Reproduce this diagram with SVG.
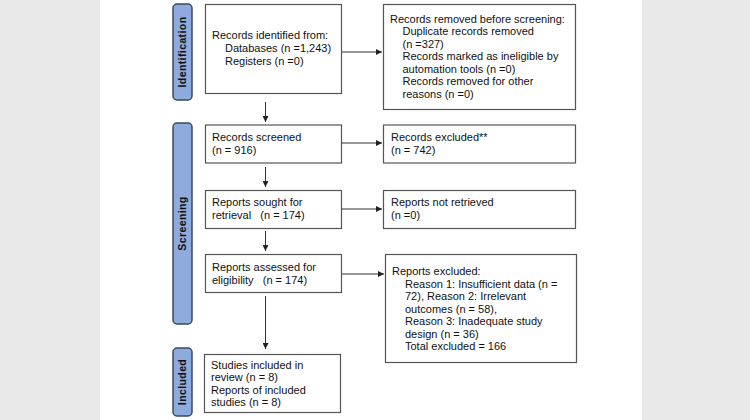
<svg xmlns="http://www.w3.org/2000/svg" width="750" height="420" viewBox="0 0 750 420">
  <defs>
    <style>
      .box { fill: #ffffff; stroke: #555555; stroke-width: 1.2; }
      .pill { fill: #8faadc; stroke: #3a4a60; stroke-width: 1.5; }
      .t { font-family: "Liberation Sans", Arial, sans-serif; font-size: 11px; fill: #111111; white-space: pre; }
      .lbl { font-family: "Liberation Sans", Arial, sans-serif; font-size: 10.5px; font-weight: bold; fill: #111111; letter-spacing: 0.4px; }
      .edge { stroke: #333333; stroke-width: 1; fill: none; marker-end: url(#arrow); }
    </style>
    <marker id="arrow" viewBox="0 0 6 6" refX="6" refY="3" markerWidth="6" markerHeight="6" markerUnits="userSpaceOnUse" orient="auto">
      <path d="M0,0 L6,3 L0,6 Z" fill="#222222"/>
    </marker>
  </defs>

  <!-- page backdrop -->
  <rect x="0" y="0" width="750" height="420" fill="#e9e9e9"/>
  <rect x="100" y="0" width="542" height="420" fill="#ffffff"/>

  <!-- phase labels -->
  <g id="phase-identification">
    <rect class="pill" x="173" y="4" width="19" height="96" rx="4"/>
    <text class="lbl" transform="translate(186,52) rotate(-90)" text-anchor="middle">Identification</text>
  </g>
  <g id="phase-screening">
    <rect class="pill" x="173" y="123" width="19" height="201" rx="4"/>
    <text class="lbl" transform="translate(186,223.5) rotate(-90)" text-anchor="middle">Screening</text>
  </g>
  <g id="phase-included">
    <rect class="pill" x="173" y="348" width="19" height="68" rx="4"/>
    <text class="lbl" transform="translate(186,382) rotate(-90)" text-anchor="middle">Included</text>
  </g>

  <!-- connectors -->
  <g id="connectors">
    <line class="edge" x1="341" y1="52" x2="382" y2="52"/>
    <line class="edge" x1="265.5" y1="102" x2="265.5" y2="122"/>
    <line class="edge" x1="341" y1="143" x2="382" y2="143"/>
    <line class="edge" x1="265.5" y1="167" x2="265.5" y2="187"/>
    <line class="edge" x1="341" y1="209" x2="382" y2="209"/>
    <line class="edge" x1="265.5" y1="231" x2="265.5" y2="251"/>
    <line class="edge" x1="341" y1="274" x2="384" y2="274"/>
    <line class="edge" x1="265.5" y1="296" x2="265.5" y2="349"/>
  </g>

  <!-- nodes -->
  <g id="records-identified">
    <rect class="box" x="205.5" y="4.5" width="136" height="89"/>
    <text class="t" x="212" y="39">Records identified from:</text>
    <text class="t" x="225" y="52">Databases (n =1,243)</text>
    <text class="t" x="225" y="65">Registers (n =0)</text>
  </g>

  <g id="records-removed">
    <rect class="box" x="383.5" y="4.5" width="192" height="105"/>
    <text class="t" x="390" y="22.5">Records removed before screening:</text>
    <text class="t" x="402.5" y="35">Duplicate records removed</text>
    <text class="t" x="402.5" y="47.5">(n =327)</text>
    <text class="t" x="402.5" y="60">Records marked as ineligible by</text>
    <text class="t" x="402.5" y="72.5">automation tools (n =0)</text>
    <text class="t" x="402.5" y="85">Records removed for other</text>
    <text class="t" x="402.5" y="97.5">reasons (n =0)</text>
  </g>

  <g id="records-screened">
    <rect class="box" x="205.5" y="125" width="136" height="38"/>
    <text class="t" x="212" y="141">Records screened</text>
    <text class="t" x="212" y="153.5">(n = 916)</text>
  </g>

  <g id="records-excluded">
    <rect class="box" x="383.5" y="125" width="192" height="38"/>
    <text class="t" x="391" y="141">Records excluded**</text>
    <text class="t" x="391" y="153.5">(n = 742)</text>
  </g>

  <g id="reports-sought">
    <rect class="box" x="205.5" y="190.5" width="136" height="38"/>
    <text class="t" x="212" y="206">Reports sought for</text>
    <text class="t" x="212" y="218.5" xml:space="preserve">retrieval   (n = 174)</text>
  </g>

  <g id="reports-not-retrieved">
    <rect class="box" x="383.5" y="190.5" width="192" height="38"/>
    <text class="t" x="391" y="206">Reports not retrieved</text>
    <text class="t" x="391" y="218.5">(n =0)</text>
  </g>

  <g id="reports-assessed">
    <rect class="box" x="205.5" y="254.5" width="136" height="38"/>
    <text class="t" x="212" y="271">Reports assessed for</text>
    <text class="t" x="212" y="283.5" xml:space="preserve">eligibility   (n = 174)</text>
  </g>

  <g id="reports-excluded">
    <rect class="box" x="385.5" y="254.5" width="191" height="108"/>
    <text class="t" x="392" y="275">Reports excluded:</text>
    <text class="t" x="405" y="287.5">Reason 1: Insufficient data (n =</text>
    <text class="t" x="405" y="300">72), Reason 2: Irrelevant</text>
    <text class="t" x="405" y="312.5">outcomes (n = 58),</text>
    <text class="t" x="405" y="325">Reason 3: Inadequate study</text>
    <text class="t" x="405" y="337.5">design (n = 36)</text>
    <text class="t" x="405" y="349.5">Total excluded = 166</text>
  </g>

  <g id="studies-included">
    <rect class="box" x="204.5" y="354.5" width="136" height="58"/>
    <text class="t" x="211" y="368.5">Studies included in</text>
    <text class="t" x="211" y="381">review (n = 8)</text>
    <text class="t" x="211" y="393.5">Reports of included</text>
    <text class="t" x="211" y="406">studies (n = 8)</text>
  </g>
</svg>
